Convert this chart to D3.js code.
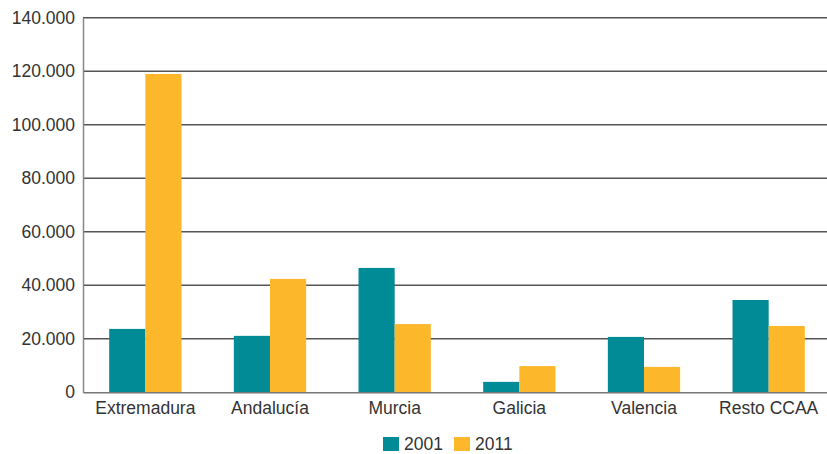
<!DOCTYPE html>
<html lang="es">
<head>
<meta charset="utf-8">
<script src="https://d3js.org/d3.v7.min.js"></script>
<style>
body { margin: 0; background: #fff; }
text { font-family: "Liberation Sans", Arial, sans-serif; fill: #333; }
</style>
</head>
<body>
<div id="chart"></div>
<script>
// data
var regions = ["Extremadura", "Andalucía", "Murcia", "Galicia", "Valencia", "Resto CCAA"];
var years = ["2001", "2011"];
var values2001 = [23700, 21100, 46500, 3900, 20700, 34500];
var values2011 = [119000, 42400, 25500, 9800, 9500, 24800];
var yTicks = [0, 20000, 40000, 60000, 80000, 100000, 120000, 140000];
var colors = ["#008b96", "#fdb72b"];

var W = 827, H = 454;

var svg = d3.select("#chart").append("svg")
  .attr("width", W).attr("height", H);

var y = d3.scaleLinear().domain([0, 140000]).range([392.3, 17.8]);
var x0 = d3.scaleBand().domain(regions).range([83, 831])
  .paddingInner(0.42).paddingOuter(0.21);
var x1 = d3.scaleBand().domain(years).range([0, x0.bandwidth()]);

var fmt = function(v) { return d3.format(",")(v).replace(/,/g, "."); };

// gridlines
svg.append("g").selectAll("line")
  .data(yTicks.filter(function(d) { return d > 0; }))
  .enter().append("line")
    .attr("x1", 83).attr("x2", W)
    .attr("y1", function(d) { return y(d); })
    .attr("y2", function(d) { return y(d); })
    .attr("stroke", "#555").attr("stroke-width", 1.5);

// bars
var series = [values2001, values2011];
svg.append("g").selectAll("g")
  .data(regions)
  .enter().append("g")
    .attr("transform", function(d) { return "translate(" + x0(d) + ",0)"; })
  .selectAll("rect")
  .data(function(d, i) { return years.map(function(yr, j) { return {yr: yr, v: series[j][i]}; }); })
  .enter().append("rect")
    .attr("x", function(d) { return x1(d.yr); })
    .attr("width", x1.bandwidth())
    .attr("y", function(d) { return y(d.v); })
    .attr("height", function(d) { return y(0) - y(d.v); })
    .attr("fill", function(d, j) { return colors[j]; });

// y axis
var yAxis = svg.append("g")
  .attr("transform", "translate(83,0)")
  .call(d3.axisLeft(y).tickValues(yTicks).tickSize(0).tickPadding(8).tickFormat(fmt));
yAxis.select(".domain").attr("stroke", "#888").attr("stroke-width", 1.5);
yAxis.selectAll("text").style("font-size", "17.5px")
  .style("font-family", "Liberation Sans, Arial, sans-serif").attr("fill", "#333");

// x axis
var xAxis = svg.append("g")
  .attr("transform", "translate(0," + y(0) + ")")
  .call(d3.axisBottom(x0).tickSize(0).tickPadding(9));
xAxis.select(".domain").attr("stroke", "#777").attr("stroke-width", 1.5);
xAxis.selectAll("text").style("font-size", "17.5px")
  .style("font-family", "Liberation Sans, Arial, sans-serif").attr("fill", "#333");

// legend
var legend = svg.append("g").selectAll("g")
  .data(years)
  .enter().append("g")
    .attr("transform", function(d, i) { return "translate(" + (383 + i * 71) + ",437)"; });
legend.append("rect").attr("width", 16).attr("height", 14)
  .attr("fill", function(d, i) { return colors[i]; });
legend.append("text").attr("x", 21).attr("y", 13)
  .style("font-size", "17.5px").text(function(d) { return d; });
</script>
</body>
</html>
